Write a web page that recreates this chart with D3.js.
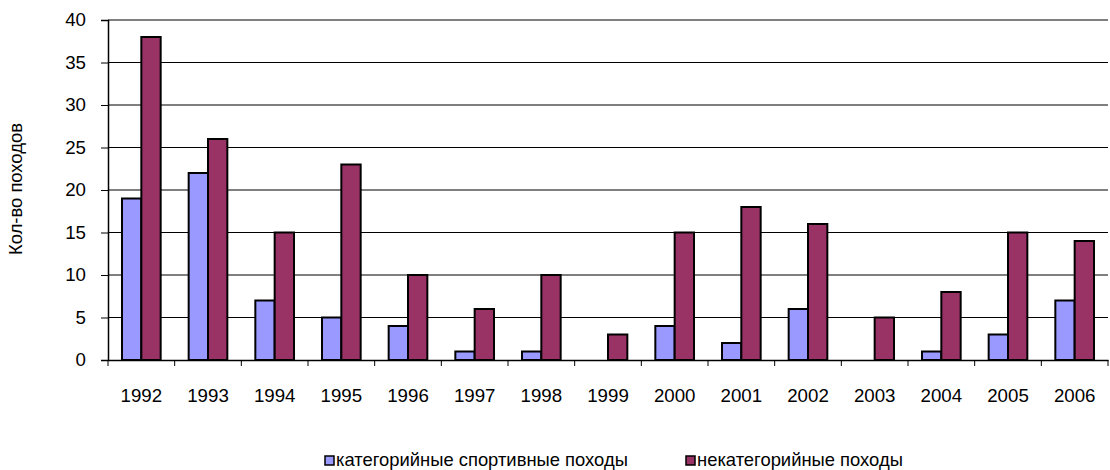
<!DOCTYPE html>
<html><head><meta charset="utf-8">
<script src="https://cdn.jsdelivr.net/npm/d3@7"></script>
<style>body{margin:0;background:#fff}svg{display:block}text{font-family:"Liberation Sans",Arial,sans-serif;fill:#000}</style>
</head><body><svg id="c" width="1110" height="470"></svg>
<script>
const years = ["1992","1993","1994","1995","1996","1997","1998","1999","2000","2001","2002","2003","2004","2005","2006"];
const categorized = [19,22,7,5,4,1,1,0,4,2,6,0,1,3,7];
const uncategorized = [38,26,15,23,10,6,10,3,15,18,16,5,8,15,14];
const seriesNames = ["категорийные спортивные походы","некатегорийные походы"];
const yTicks = [0,5,10,15,20,25,30,35,40];
const colors = ["#9999FF","#993366"];

const svg = d3.select("#c");
const L=108,R=1108,T=20,B=360;
const FS="18.7px";
const x = d3.scaleBand().domain(years).range([L,R]);
const y = d3.scaleLinear().domain([0,40]).range([B,T]);
const bw = x.bandwidth()*0.29;

// grid
svg.append("g").selectAll("line").data(yTicks.filter(d=>d>0)).join("line")
  .attr("x1",L).attr("x2",R).attr("y1",d=>y(d)).attr("y2",d=>y(d))
  .attr("stroke","#000").attr("stroke-width",1);

// y axis
const ya = svg.append("g").attr("transform",`translate(${L},0)`)
  .call(d3.axisLeft(y).tickValues(yTicks).tickSize(7).tickPadding(15));
ya.select(".domain").attr("stroke","#000").attr("stroke-width",1.5);
ya.selectAll("text").style("font-size",FS).style("font-family","Liberation Sans, Arial");
ya.selectAll("line").attr("stroke","#000");

// bars
const series=[categorized,uncategorized];
series.forEach((vals,si)=>{
  svg.append("g").selectAll("rect").data(years).join("rect")
    .attr("x",(d)=>x(d)+x.bandwidth()/2-bw+si*bw)
    .attr("y",(d,i)=>y(vals[i]))
    .attr("width",bw)
    .attr("height",(d,i)=>y(0)-y(vals[i]))
    .attr("fill",colors[si]).attr("stroke","#000").attr("stroke-width",2)
    .style("display",(d,i)=>vals[i]===0?"none":null);
});

// x axis
const xa = svg.append("g").attr("transform",`translate(0,${B})`)
  .call(d3.axisBottom(x).tickSize(0).tickPadding(28.7));
xa.select(".domain").attr("stroke","#000").attr("stroke-width",1.5);
xa.selectAll("text").style("font-size",FS).style("font-family","Liberation Sans, Arial");
svg.append("g").selectAll("line").data(years.concat(["end"])).join("line")
  .attr("x1",(d,i)=>L+i*x.step()).attr("x2",(d,i)=>L+i*x.step())
  .attr("y1",B).attr("y2",B+6).attr("stroke","#000");

// y title
svg.append("text").attr("transform","translate(22,189) rotate(-90)")
  .attr("text-anchor","middle").style("font-size","18.4px").text("Кол-во походов");

// legend
const lg=[{x:325,t:336},{x:686,t:697}];
lg.forEach((p,i)=>{
  svg.append("rect").attr("x",p.x).attr("y",456).attr("width",9).attr("height",9)
    .attr("fill",colors[i]).attr("stroke","#000").attr("stroke-width",1.5);
  svg.append("text").attr("x",p.t).attr("y",465.5).style("font-size","18.4px").text(seriesNames[i]);
});
</script></body></html>
